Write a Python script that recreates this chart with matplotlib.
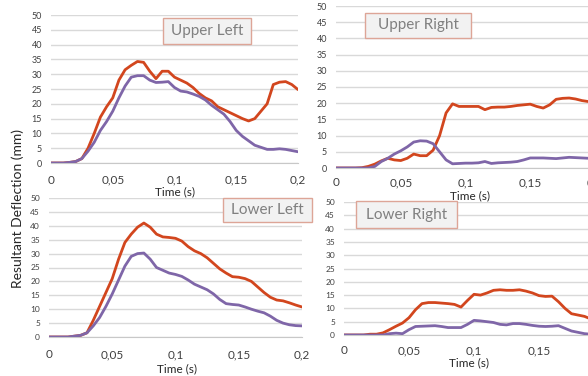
import numpy as np
import matplotlib
matplotlib.use("Agg")
import matplotlib.pyplot as plt
from matplotlib.patches import Rectangle

plt.rcParams['font.family'] = ['Lato', 'DejaVu Sans']

W, H = 588, 376

# sample times (s), every 5 ms
t = np.round(np.arange(0, 0.2001, 0.005), 3)

ul_red = [0, 0, 0, 0.2, 0.5, 1.5, 5, 10, 15.5, 19, 22, 28, 31.5, 33, 34.3, 34, 31, 28.5, 31, 31,
          29, 28, 27, 25.5, 23.5, 22, 21, 19, 18, 17, 16, 15, 14.2, 15, 17.5, 20, 26.5, 27.3, 27.5, 26.5, 24.8]
ul_purple = [0, 0, 0, 0.2, 0.5, 1.5, 4, 7, 11, 14, 17.5, 22, 26, 29, 29.5, 29.5, 28, 27.2, 27.3, 27.5,
             25.5, 24.3, 24, 23.3, 22.5, 21.3, 19.5, 18, 16.5, 14, 11, 9, 7.5, 6, 5.3, 4.6, 4.6, 4.8, 4.6, 4.2, 3.8]

ur_red = [0, 0, 0, 0, 0.1, 0.5, 1.2, 2.2, 3, 2.5, 2.3, 3, 4.3, 3.8, 3.8, 5.5, 10, 17, 19.8, 19, 19,
          19, 19, 18, 18.7, 18.8, 18.8, 19, 19.3, 19.5, 19.7, 19, 18.5, 19.5, 21.2, 21.5, 21.6, 21.3, 20.8, 20.5, 20]
ur_purple = [0, 0, 0, 0, 0, 0, 0.5, 2, 3, 4.3, 5.3, 6.5, 8, 8.4, 8.3, 7.5, 5, 2.5, 1.3, 1.4, 1.5,
             1.5, 1.6, 2, 1.4, 1.6, 1.7, 1.8, 2, 2.5, 3.1, 3.1, 3.1, 3, 2.9, 3.1, 3.3, 3.2, 3.1, 3, 3]

ll_red = [0, 0, 0, 0, 0.3, 0.6, 1.5, 6, 11, 16, 21, 28, 34, 37, 39.5, 41, 39.5, 37, 36, 35.8, 35.5,
          34.5, 32.5, 31, 30, 28.5, 26.5, 24.5, 23, 21.7, 21.5, 21, 20, 18, 16, 14.3, 13.3, 13, 12.3, 11.5, 10.8]
ll_purple = [0, 0, 0, 0, 0.3, 0.6, 1.5, 4, 7, 11, 15.5, 20.5, 25.5, 29, 30, 30.2, 28, 25, 24, 23, 22.5,
             21.8, 20.5, 19, 18, 17, 15.5, 13.5, 12, 11.7, 11.5, 10.8, 10, 9.3, 8.7, 7.5, 6, 5, 4.4, 4.1, 4]

lr_red = [0, 0, 0, 0, 0.3, 0.3, 0.8, 2, 3.3, 4.5, 6.5, 9.5, 11.8, 12.2, 12.2, 12, 11.8, 11.5, 10.5, 13, 15.3,
          15, 15.8, 16.8, 17, 16.8, 16.8, 17, 16.5, 15.8, 14.8, 14.5, 14.6, 12.5, 10, 8, 7.5, 7, 6, 5.5, 5]
lr_purple = [0, 0, 0, 0, 0, 0, 0, 0.5, 0.7, 0.5, 2, 3.2, 3.3, 3.4, 3.5, 3.2, 2.8, 2.8, 2.8, 4, 5.5,
             5.3, 5, 4.7, 4, 3.8, 4.3, 4.3, 4, 3.6, 3.3, 3.2, 3.3, 3.5, 2.5, 1.5, 1, 0.5, 0.3, 0.2, 0.2]

xticks = [0, 0.05, 0.1, 0.15, 0.2]
xticklabels = ['0', '0,05', '0,1', '0,15', '0,2']
yticks = list(range(0, 51, 5))

RED = '#D2461E'
PURPLE = '#7F66A8'

fig = plt.figure(figsize=(W / 100, H / 100), dpi=100)


def px_axes(x0, x1, y_top, y_bot):
    return fig.add_axes([x0 / W, 1 - y_bot / H, (x1 - x0) / W, (y_bot - y_top) / H])


# (x at t=0, x at t=0.2, y at 50, y at 0, title box, xlabel center, y tick size, x tick size, x pad)
panels = [
    ("Lower Left", ll_red, ll_purple, 49, 302, 198, 337, (223, 312, 198, 222), (177, 369), 6, 8.5, 9),
    ("Lower Right", lr_red, lr_purple, 344, 604, 202, 335, (356, 457, 201, 228), (469, 363), 6, 8.5, 7.5),
    ("Upper Left", ul_red, ul_purple, 51, 298, 15, 163, (163, 251, 18, 44), (175, 192), 6.5, 8.5, 8.5),
    ("Upper Right", ur_red, ur_purple, 336, 595, 6, 168, (365, 471, 13, 38), (470, 196), 6.5, 8.5, 6.5),
]

for name, red, purple, x0, x1, ytop, ybot, box, xl, ysz, xsz, xpad in panels:
    ax = px_axes(x0, x1, ytop, ybot)
    ax.set_facecolor('white')
    ax.plot(t, red, color=RED, lw=2, solid_capstyle='round', zorder=3)
    ax.plot(t, purple, color=PURPLE, lw=2, solid_capstyle='round', zorder=3)
    ax.set_xlim(0, 0.2)
    ax.set_ylim(0, 50)
    ax.set_xticks(xticks)
    ax.set_xticklabels(xticklabels, fontsize=xsz, color='#404040')
    ax.set_yticks(yticks)
    ax.set_yticklabels([str(v) for v in yticks], fontsize=ysz, color='#404040')
    ax.tick_params(length=0)
    ax.tick_params(axis='y', pad=6.5)
    ax.tick_params(axis='x', pad=xpad)
    ax.yaxis.grid(True, color='#D9D9D9', lw=1)
    ax.set_axisbelow(True)
    for s in ['top', 'right', 'left']:
        ax.spines[s].set_visible(False)
    ax.spines['bottom'].set_color('#C8C8C8')
    ax.spines['bottom'].set_zorder(1)

    bx0, bx1, by0, by1 = box
    fig.add_artist(Rectangle((bx0 / W, 1 - by1 / H), (bx1 - bx0) / W, (by1 - by0) / H,
                             transform=fig.transFigure, facecolor='#F2F2F2',
                             edgecolor='#DDA597', lw=1, zorder=5))
    fig.text((bx0 + bx1) / 2 / W, 1 - (by0 + by1) / 2 / H, name, ha='center', va='center',
             fontsize=11, color='#808080', zorder=6)
    fig.text(xl[0] / W, 1 - xl[1] / H, "Time (s)", ha='center', va='center',
             fontsize=8.5, color='#262626', zorder=4)

fig.text(18 / W, 1 - 208 / H, "Resultant Deflection (mm)", rotation=90, ha='center',
         va='center', fontsize=10, color='#262626')

fig.savefig('out.png', dpi=100)
